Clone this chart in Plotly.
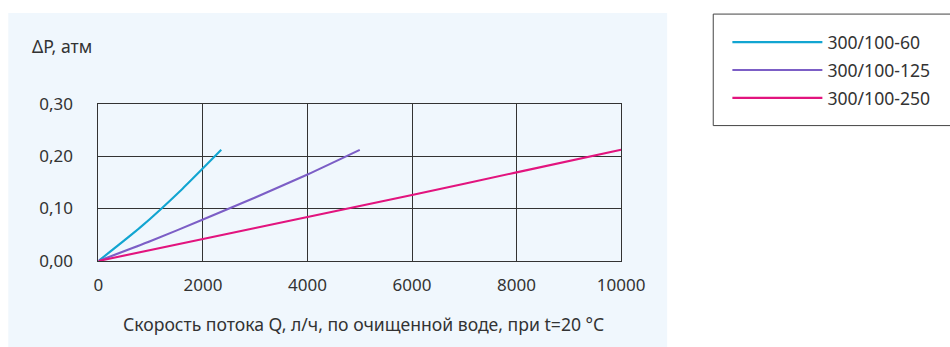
import plotly.graph_objects as go

# Data
q_60 = [0, 800, 1600, 2350]
dp_60 = [0, 0.064, 0.137, 0.212]

q_125 = [0, 1000, 2000, 3000, 4000, 5000]
dp_125 = [0, 0.038, 0.079, 0.121, 0.165, 0.212]

q_250 = [0, 2000, 4000, 6000, 8000, 10000]
dp_250 = [0, 0.042, 0.084, 0.126, 0.169, 0.212]

series_names = ["300/100-60", "300/100-125", "300/100-250"]
colors = ["#12a5d1", "#7c5ec6", "#e2147e"]

x_ticks = [0, 2000, 4000, 6000, 8000, 10000]
y_ticks = [0.0, 0.1, 0.2, 0.3]
y_tick_labels = ["0,00", "0,10", "0,20", "0,30"]

# Figure size and mapping from target picture pixels to paper fractions
W, H = 976, 358
SX, OX = 0.969, 4.7
SY, OY = 0.94, 10.9


def px(ix):
    return ((ix - OX) / SX) / W


def py(iy):
    return 1 - ((iy - OY) / SY) / H


font_family = "Noto Sans, Open Sans, sans-serif"
text_color = "#333333"

fig = go.Figure()
for xs, ys, name, c in zip([q_60, q_125, q_250], [dp_60, dp_125, dp_250], series_names, colors):
    fig.add_trace(go.Scatter(x=xs, y=ys, mode="lines", name=name, legendgroup=name,
                             line=dict(color=c, width=2.1, shape="spline", smoothing=0.6)))

fig.update_layout(
    width=W, height=H,
    margin=dict(l=0, r=0, t=0, b=0),
    paper_bgcolor="white",
    plot_bgcolor="rgba(0,0,0,0)",
    showlegend=True,
    legend=dict(x=((730 - OX) / SX - 4) / W, y=1 - 13 / H, xanchor="left", yanchor="top",
                bgcolor="rgba(0,0,0,0)", borderwidth=0,
                font=dict(family=font_family, size=17.6, color=text_color),
                itemwidth=90, tracegroupgap=2),
    xaxis=dict(domain=[px(98), px(620)], range=[0, 10000], tickvals=x_ticks,
               ticktext=[str(v) for v in x_ticks],
               showgrid=True, gridcolor="#333333", gridwidth=1,
               showline=True, linecolor="#333333", linewidth=1, mirror=True,
               zeroline=False, ticks="", ticklabelstandoff=9,
               tickfont=dict(family=font_family, size=17, color=text_color)),
    yaxis=dict(domain=[py(261), py(103)], range=[0, 0.3], tickvals=y_ticks,
               ticktext=y_tick_labels,
               showgrid=True, gridcolor="#333333", gridwidth=1,
               showline=True, linecolor="#333333", linewidth=1, mirror=True,
               zeroline=False, ticks="", ticklabelstandoff=21,
               tickfont=dict(family=font_family, size=17, color=text_color)),
    shapes=[
        dict(type="rect", xref="paper", yref="paper", x0=px(8), x1=px(666), y0=-0.05, y1=py(12),
             fillcolor="#f0f7fd", line=dict(width=0), layer="below"),
        dict(type="rect", xref="paper", yref="paper", x0=px(712), x1=1.03,
             y0=py(125), y1=py(13),
             fillcolor="rgba(0,0,0,0)", line=dict(color="#444444", width=1)),
    ],
    annotations=[
        dict(text="ΔP, атм", xref="paper", yref="paper", x=px(30), y=py(45),
             xanchor="left", yanchor="middle", showarrow=False,
             font=dict(family=font_family, size=17.6, color=text_color)),
        dict(text="Скорость потока Q, л/ч, по очищенной воде, при t=20 °C",
             xref="paper", yref="paper", x=px(363), y=py(324),
             xanchor="center", yanchor="middle", showarrow=False,
             font=dict(family=font_family, size=17.6, color=text_color)),
    ],
)

fig.write_html(
    "out.html",
    config={"displayModeBar": False},
    post_script="document.body.style.margin='0';document.body.style.overflow='hidden';"
                "document.documentElement.style.overflow='hidden';",
)
